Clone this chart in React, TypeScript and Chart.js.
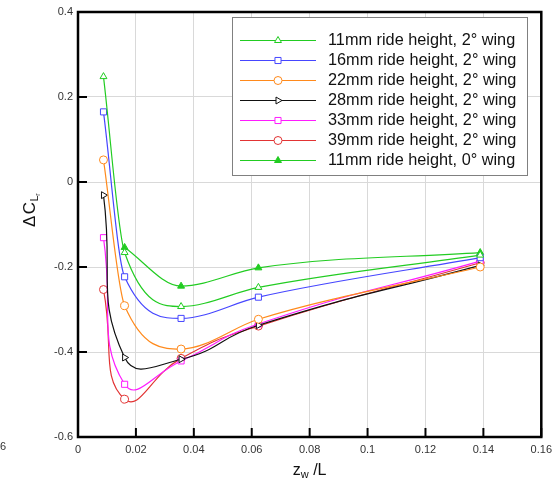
import React, { useEffect, useRef } from 'react';
import { Chart, registerables } from 'chart.js';
import { drawPoint } from 'chart.js/helpers';

Chart.register(...registerables);

// z_w / L positions of the measurements
const zPositions = [0.0088, 0.0161, 0.0356, 0.0623, 0.1389];

const seriesLabels = [
  '11mm ride height, 2° wing',
  '16mm ride height, 2° wing',
  '22mm ride height, 2° wing',
  '28mm ride height, 2° wing',
  '33mm ride height, 2° wing',
  '39mm ride height, 2° wing',
  '11mm ride height, 0° wing',
];

const ride11Wing2 = [0.248, -0.166, -0.293, -0.248, -0.172];
const ride16Wing2 = [0.165, -0.223, -0.321, -0.271, -0.178];
const ride22Wing2 = [0.052, -0.291, -0.393, -0.323, -0.2];
const ride28Wing2 = [-0.031, -0.413, -0.417, -0.337, -0.196];
const ride33Wing2 = [-0.131, -0.476, -0.421, -0.334, -0.186];
const ride39Wing2 = [-0.253, -0.511, -0.415, -0.339, -0.19];
const ride11Wing0 = [null, -0.154, -0.245, -0.202, -0.166];

const xTickLabels = ['0', '0.02', '0.04', '0.06', '0.08', '0.1', '0.12', '0.14', '0.16'];
const yTickLabels = ['-0.6', '-0.4', '-0.2', '0', '0.2', '0.4'];

const FONT = '"Liberation Sans", Arial, sans-serif';

const styles = [
  { color: '#22cc22', point: 'triangle', rot: 0, fill: '#ffffff', r: 4, mono: true },
  { color: '#4646ff', point: 'rect', rot: 0, fill: '#ffffff', r: 4.3, mono: true },
  { color: '#ff8a1c', point: 'circle', rot: 0, fill: '#ffffff', r: 4, mono: true },
  { color: '#111111', point: 'triangle', rot: 90, fill: '#ffffff', r: 4, mono: false },
  { color: '#ff1cff', point: 'rect', rot: 0, fill: '#ffffff', r: 4.3, mono: false },
  { color: '#e23434', point: 'circle', rot: 0, fill: '#ffffff', r: 4, mono: false },
  { color: '#22cc22', point: 'triangle', rot: 0, fill: '#22cc22', r: 4, mono: true },
];

const seriesValues = [ride11Wing2, ride16Wing2, ride22Wing2, ride28Wing2, ride33Wing2, ride39Wing2, ride11Wing0];

const framePlugin = {
  id: 'frameAndExtras',
  afterDraw(chart: any) {
    const ctx = chart.ctx as CanvasRenderingContext2D;
    const { left, right, top, bottom } = chart.chartArea;
    const xs = chart.scales.x;
    const ys = chart.scales.y;
    ctx.save();
    // inward ticks
    ctx.strokeStyle = '#000';
    ctx.lineWidth = 2;
    xs.ticks.forEach((t: any) => {
      const px = xs.getPixelForValue(t.value);
      ctx.beginPath();
      ctx.moveTo(px, bottom);
      ctx.lineTo(px, bottom - 9);
      ctx.stroke();
    });
    ys.ticks.forEach((t: any) => {
      const py = ys.getPixelForValue(t.value);
      ctx.beginPath();
      ctx.moveTo(left, py);
      ctx.lineTo(left + 9, py);
      ctx.stroke();
    });
    // frame
    ctx.lineWidth = 2.5;
    ctx.strokeRect(left, top, right - left, bottom - top);

    // legend
    const lx0 = 232.5, ly0 = 17.5, lx1 = 527.5, ly1 = 175.5;
    ctx.fillStyle = '#fff';
    ctx.fillRect(lx0, ly0, lx1 - lx0, ly1 - ly0);
    ctx.lineWidth = 1;
    ctx.strokeStyle = '#808080';
    ctx.strokeRect(lx0, ly0, lx1 - lx0, ly1 - ly0);
    chart.data.datasets.forEach((ds: any, i: number) => {
      const y = 40.5 + i * 20;
      ctx.strokeStyle = ds.borderColor;
      ctx.lineWidth = 1.2;
      ctx.beginPath();
      ctx.moveTo(240, y);
      ctx.lineTo(316, y);
      ctx.stroke();
      ctx.fillStyle = ds.pointBackgroundColor;
      ctx.strokeStyle = ds.pointBorderColor;
      ctx.lineWidth = 1;
      drawPoint(ctx, { pointStyle: ds.pointStyle, rotation: ds.pointRotation, radius: ds.pointRadius, borderWidth: 1 } as any, 278, y);
      ctx.fillStyle = '#111';
      ctx.font = `16.3px ${FONT}`;
      ctx.textAlign = 'left';
      ctx.textBaseline = 'middle';
      ctx.fillText(ds.label, 328, y + 0.5);
    });

    // x title: z_w /L
    ctx.fillStyle = '#111';
    ctx.textBaseline = 'alphabetic';
    ctx.textAlign = 'left';
    ctx.font = `16px ${FONT}`;
    const wz = ctx.measureText('z').width;
    const wRest = ctx.measureText(' /L').width;
    ctx.font = `11px ${FONT}`;
    const ww = ctx.measureText('w').width;
    const total = wz + ww + wRest;
    const sx = (left + right) / 2 - total / 2;
    const base = 475;
    ctx.font = `16px ${FONT}`;
    ctx.fillText('z', sx, base);
    ctx.font = `11px ${FONT}`;
    ctx.fillText('w', sx + wz, base + 3);
    ctx.font = `16px ${FONT}`;
    ctx.fillText(' /L', sx + wz + ww, base);

    // y title: ΔC_Lr
    ctx.save();
    ctx.translate(35, 227);
    ctx.rotate(-Math.PI / 2);
    ctx.font = `17px ${FONT}`;
    ctx.fillText('Δ', 0, 0);
    const wd = ctx.measureText('Δ').width + 1.5;
    ctx.fillText('C', wd, 0);
    const wc = ctx.measureText('C').width;
    ctx.font = `10px ${FONT}`;
    ctx.fillText('L', wd + wc + 0.5, 3);
    const wl = ctx.measureText('L').width;
    ctx.font = `7px ${FONT}`;
    ctx.fillText('r', wd + wc + 0.5 + wl, 5);
    ctx.restore();

    // stray clipped label at far left
    ctx.fillStyle = '#333';
    ctx.font = `11px ${FONT}`;
    ctx.textBaseline = 'middle';
    ctx.fillText('6', 0, 447);
    ctx.restore();
  },
};

export default function App() {
  const ref = useRef<HTMLCanvasElement>(null);
  useEffect(() => {
    document.body.style.margin = '0';
    const canvas = ref.current!;
    const datasets = seriesValues.map((vals, i) => {
      const s = styles[i];
      return {
        label: seriesLabels[i],
        data: zPositions
          .map((x, j) => ({ x, y: vals[j] }))
          .filter((p) => p.y !== null),
        borderColor: s.color,
        borderWidth: 1.2,
        pointStyle: s.point,
        pointRotation: s.rot,
        pointRadius: s.r,
        pointBorderWidth: 1,
        pointBorderColor: s.color,
        pointBackgroundColor: s.fill,
        cubicInterpolationMode: s.mono ? 'monotone' : 'default',
        tension: 0.5,
        fill: false,
      };
    });
    const chart = new Chart(canvas, {
      type: 'line',
      data: { datasets: datasets as any },
      options: {
        animation: false,
        responsive: false,
        maintainAspectRatio: false,
        devicePixelRatio: 1,
        layout: { padding: { left: 0, top: 12, right: 14, bottom: 0 } },
        plugins: { legend: { display: false }, tooltip: { enabled: false }, title: { display: false } },
        scales: {
          x: {
            type: 'linear',
            min: 0,
            max: 0.16,
            ticks: {
              stepSize: 0.02,
              padding: 6,
              color: '#333',
              font: { family: FONT, size: 11 },
              callback: (_v: any, i: number) => xTickLabels[i],
              maxRotation: 0,
              autoSkip: false,
            },
            grid: { color: '#d9d9d9', lineWidth: 1, drawTicks: false },
            border: { display: false },
            afterFit: (s: any) => { s.height = 45; },
          },
          y: {
            type: 'linear',
            min: -0.6,
            max: 0.4,
            ticks: {
              stepSize: 0.2,
              padding: 5,
              color: '#333',
              font: { family: FONT, size: 11 },
              callback: (_v: any, i: number) => yTickLabels[i],
              autoSkip: false,
            },
            grid: { color: '#d9d9d9', lineWidth: 1, drawTicks: false },
            border: { display: false },
            afterFit: (s: any) => { s.width = 78; },
          },
        },
      },
      plugins: [framePlugin],
    });
    return () => chart.destroy();
  }, []);
  return (
    <div style={{ position: 'absolute', left: 0, top: 0, width: 558, height: 482 }}>
      <canvas ref={ref} width={558} height={482} style={{ width: 558, height: 482, display: 'block' }} />
    </div>
  );
}
